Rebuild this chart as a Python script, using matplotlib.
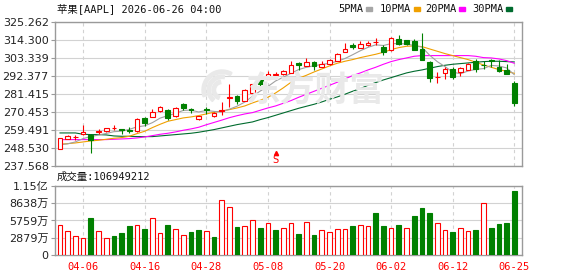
import matplotlib
matplotlib.use("Agg")
import matplotlib.pyplot as plt
from matplotlib.patches import Rectangle, Wedge
from matplotlib.transforms import IdentityTransform

plt.rcParams['font.family'] = ['DejaVu Sans', 'Noto Sans CJK SC']
MONO = ['DejaVu Sans Mono', 'Noto Sans CJK SC']

# ---- data ----
opens = [248.0, 254.2, 255.0, 256.8, 256.2, 258.4, 259.0, 260.5, 260.0, 259.4,
         258.6, 266.7, 267.5, 270.8, 271.4, 268.0, 275.0, 272.4, 265.9, 272.4,
         268.0, 271.0, 279.1, 279.9, 277.05, 281.9, 290.0, 290.6, 292.8, 293.2,
         294.25, 300.1, 298.3, 300.5, 297.7, 299.3, 301.3, 306.8, 310.8, 309.4,
         311.2, 312.66, 309.8, 307.8, 314.5, 313.9, 313.3, 308.8, 300.7, 291.4,
         294.05, 296.3, 294.65, 296.1, 301.1, 299.1, 301.7, 297.7, 295.7, 288.0]
highs = [254.8, 256.4, 256.4, 262.3, 257.2, 259.9, 260.8, 262.3, 260.1, 261.3,
         266.5, 267.3, 272.0, 274.0, 272.4, 273.4, 275.8, 273.0, 267.9, 273.4,
         270.4, 276.4, 287.6, 280.5, 284.5, 287.6, 292.0, 295.3, 294.65, 296.1,
         301.1, 300.7, 303.35, 301.3, 301.3, 302.75, 306.2, 312.25, 312.25, 313.5,
         313.5, 315.3, 311.2, 315.9, 317.3, 314.0, 314.9, 318.5, 301.3, 294.65,
         297.7, 297.7, 297.7, 300.3, 302.3, 301.1, 302.75, 301.7, 299.7, 289.0]
lows = [247.6, 253.8, 253.2, 256.6, 245.7, 256.8, 258.0, 259.3, 257.0, 257.8,
        258.2, 261.9, 267.1, 270.4, 265.7, 267.3, 271.4, 269.8, 265.7, 269.0,
        267.5, 268.8, 273.4, 275.0, 276.85, 281.5, 286.0, 290.4, 291.2, 292.8,
        294.0, 296.1, 298.1, 295.7, 297.5, 298.9, 301.1, 306.6, 308.4, 309.0,
        310.6, 311.2, 305.2, 307.6, 310.8, 310.8, 307.8, 301.7, 288.6, 288.2,
        290.6, 290.6, 292.2, 295.7, 294.65, 296.7, 297.7, 294.65, 293.2, 273.8]
closes = [254.3, 255.8, 255.4, 258.2, 253.6, 258.7, 260.7, 260.8, 259.7, 259.1,
          266.3, 263.9, 270.4, 273.4, 266.7, 273.0, 273.0, 271.4, 267.7, 271.4,
          270.0, 271.4, 279.7, 276.85, 283.9, 287.2, 287.6, 293.6, 293.6, 295.3,
          299.1, 298.9, 300.5, 298.3, 299.3, 302.1, 305.4, 308.8, 309.8, 311.4,
          312.45, 313.06, 306.8, 315.5, 311.4, 311.4, 308.2, 302.1, 291.0, 291.8,
          296.3, 291.6, 297.1, 299.3, 296.7, 298.7, 301.3, 295.3, 293.6, 276.0]

ma5 = [250.5, 251.0, 252.2, 254.2, 255.46, 256.34, 257.32, 258.4, 258.7, 259.8,
       261.32, 261.96, 263.88, 266.62, 268.14, 269.48, 271.3, 271.5, 270.36, 271.3,
       270.7, 270.38, 272.04, 273.87, 276.37, 279.81, 283.05, 285.83, 289.18, 291.46,
       293.84, 296.1, 297.48, 298.42, 299.22, 299.82, 301.12, 302.78, 305.08, 307.5,
       309.57, 311.1, 310.7, 311.84, 311.84, 311.63, 310.66, 309.72, 304.82, 300.9,
       297.88, 294.56, 293.56, 295.22, 296.2, 296.68, 298.62, 298.26, 297.12, 292.98]
ma10 = [250.75, 251.16, 251.56, 252.17, 252.78, 253.18, 253.79, 254.4, 254.8, 255.61,
        257.23, 258.65, 260.87, 262.89, 264.71, 265.72, 266.74, 267.34, 268.15, 269.16,
        270.17, 270.98, 271.79, 272.8, 274.02, 275.84, 277.46, 279.28, 281.91, 285.0,
        288.38, 290.81, 292.63, 294.65, 296.47, 298.29, 299.91, 301.13, 302.14, 303.35,
        304.36, 305.38, 306.59, 308.21, 309.42, 310.23, 310.43, 310.03, 308.61, 307.2,
        305.78, 304.57, 303.35, 302.14, 300.52, 298.9, 297.49, 296.07, 295.06, 293.8]
ma20 = [253.59, 253.59, 253.59, 253.59, 253.59, 253.59, 253.59, 253.79, 253.99, 254.19,
        254.6, 255.21, 256.01, 256.82, 257.43, 258.24, 259.25, 260.06, 261.07, 262.6,
        264.0, 265.4, 266.9, 268.1, 269.16, 269.97, 271.39, 272.8, 274.02, 275.64,
        277.26, 279.28, 281.1, 282.92, 284.74, 286.56, 288.38, 290.41, 292.43, 294.05,
        295.87, 297.49, 299.31, 300.93, 302.14, 303.15, 304.16, 304.57, 304.57, 304.57,
        304.57, 304.57, 304.57, 304.57, 304.16, 303.35, 303.15, 302.54, 301.53, 299.91]
ma30 = [257.63, 257.63, 257.63, 256.82, 256.62, 256.62, 256.42, 255.81, 255.61, 255.61,
        255.41, 255.41, 255.41, 255.81, 256.22, 256.62, 257.03, 257.43, 258.04, 258.85,
        259.66, 260.67, 261.68, 262.69, 263.5, 264.31, 265.72, 266.94, 268.35, 269.77,
        271.19, 272.6, 273.82, 275.03, 276.45, 278.06, 279.48, 281.1, 282.92, 284.54,
        286.56, 288.18, 289.8, 291.2, 292.63, 294.05, 295.06, 295.87, 296.88, 297.89,
        298.7, 299.31, 299.71, 300.12, 300.52, 300.93, 301.13, 301.13, 300.93, 300.72]

# volume in millions of shares
volumes = [50, 40, 31.7, 27.8, 61.7, 40, 27.8, 31.7, 37.3, 48.4,
           50, 43.4, 61.2, 36.2, 50, 42.8, 33.4, 38.4, 41.7, 40,
           30, 91.8, 79.5, 46.7, 48.4, 58.4, 45, 53.4, 41.7, 45,
           53.4, 35, 55, 33.4, 41.7, 38.4, 43.4, 43.4, 48.4, 50,
           48.4, 70, 48.4, 45, 50, 45, 65, 78.4, 70, 53.4,
           41.7, 38.4, 45, 40, 41.7, 86.7, 45, 51.7, 53.4, 106.949212]
vol_up = [1, 1, 1, 1, 0, 1, 1, 0, 0, 0,
          1, 0, 1, 1, 0, 1, 1, 0, 0, 1,
          0, 1, 1, 0, 1, 1, 0, 1, 0, 1,
          1, 0, 1, 0, 1, 1, 1, 1, 0, 1,
          1, 0, 0, 1, 0, 1, 0, 0, 0, 1,
          1, 0, 1, 1, 0, 1, 0, 0, 0, 0]
last_volume = 106949212

date_pos = [3, 11, 19, 27, 35, 43, 51, 59]
date_labels = ['04-06', '04-16', '04-28', '05-08', '05-20', '06-02', '06-12', '06-25']

price_ticks = ['237.568', '248.530', '259.491', '270.453', '281.415',
               '292.377', '303.339', '314.300', '325.262']
vol_ticks = [0, 28.79, 57.59, 86.38, 115.17]
vol_labels = ['0', '2879万', '5759万', '8638万', '1.15亿']
signal_day = 28

RED = '#ff0000'
GREEN = '#008000'
GRID = '#d2d2d2'
FRAME = '#9a9a9a'

W, H = 578, 276
fig = plt.figure(figsize=(W / 100, H / 100), dpi=100)
fig.patch.set_facecolor('white')


def box(x0, y0, x1, y1):
    return [x0 / W, 1 - y1 / H, (x1 - x0) / W, (y1 - y0) / H]


ax = fig.add_axes(box(55, 21.5, 522, 166))
axv = fig.add_axes(box(55, 186, 522, 255))

# watermark
fig.text(0.545, 1 - 90 / H, '东方财富', fontsize=25, color='#e9e9e9',
         fontweight='bold', style='italic', ha='center', va='center', zorder=0,
         family=['Noto Sans CJK SC'])
for r, t1, t2 in [(20, 60, 200), (15, 80, 230), (10, 100, 250)]:
    fig.patches.append(Wedge((222, H - 90), r, t1, t2, width=3.5,
                             transform=IdentityTransform(), color='#e9e9e9', zorder=0))

x = list(range(len(closes)))
bw = 0.6
for i in x:
    o, h, l, c = opens[i], highs[i], lows[i], closes[i]
    if c >= o:
        ax.vlines(i, l, o, color=RED, lw=0.8, zorder=4)
        ax.vlines(i, c, h, color=RED, lw=0.8, zorder=4)
        ax.add_patch(Rectangle((i - bw / 2, o), bw, max(c - o, 0.05), facecolor='white',
                               edgecolor=RED, lw=0.8, zorder=5))
    else:
        ax.vlines(i, l, h, color=GREEN, lw=0.8, zorder=4)
        ax.add_patch(Rectangle((i - bw / 2, c), bw, o - c, facecolor=GREEN,
                               edgecolor=GREEN, lw=0.8, zorder=5))

ax.plot(x, ma30, color='#006b2e', lw=0.8, zorder=3)
ax.plot(x, ma20, color='#ff00ff', lw=0.8, zorder=3)
ax.plot(x, ma10, color='#f0a000', lw=0.8, zorder=3)
ax.plot(x, ma5, color='#a0a0a0', lw=0.8, zorder=3)

# buy/sell signal marker
ax.plot(signal_day, 245.6, marker='^', color=RED, ms=3, zorder=6)
ax.text(signal_day, 241.4, 'S', color=RED, fontsize=7, ha='center', va='center', zorder=6)

ax.set_xlim(-0.65, 60.0)
ax.set_ylim(237.568, 325.262)
ax.set_yticks([float(t) for t in price_ticks])
ax.set_yticklabels(price_ticks)
ax.set_xticks(date_pos)
ax.tick_params(axis='x', length=0, labelbottom=False)

for i in x:
    if vol_up[i]:
        axv.add_patch(Rectangle((i - bw / 2, 0), bw, volumes[i], facecolor='white',
                                edgecolor=RED, lw=0.8, zorder=3))
    else:
        axv.add_patch(Rectangle((i - bw / 2, 0), bw, volumes[i], facecolor=GREEN,
                                edgecolor=GREEN, lw=0.8, zorder=3))
axv.set_xlim(-0.65, 60.0)
axv.set_ylim(0, 115.17)
axv.set_yticks(vol_ticks)
axv.set_yticklabels(vol_labels)
axv.set_xticks(date_pos)
axv.set_xticklabels(date_labels, color=RED, fontsize=7.5, family=MONO)
axv.tick_params(axis='x', length=0, pad=5)

for a in (ax, axv):
    a.set_facecolor('none')
    a.set_axisbelow(True)
    a.grid(axis='y', color=GRID, lw=0.8, ls='-')
    a.grid(axis='x', color=GRID, lw=0.8, ls=(0, (3, 3)))
    a.tick_params(axis='y', length=3, color=FRAME, labelsize=8, pad=1.5,
                  labelcolor='#222222')
    for s in a.spines.values():
        s.set_color(FRAME)
        s.set_linewidth(1.0)

# header texts
fig.text(57 / W, 1 - 9 / H, '苹果[AAPL] 2026-06-26 04:00', fontsize=7.5,
         family=MONO, va='center', ha='left', color='#111111')
fig.text(57 / W, 1 - 177 / H, f'成交量:{last_volume}', fontsize=7.5,
         family=MONO, va='center', ha='left', color='#111111')

legend = [('5PMA', '#a6a6a6', 338), ('10PMA', '#f0a000', 380),
          ('20PMA', '#ff00ff', 425), ('30PMA', '#006b2e', 472)]
for name, col, px in legend:
    t = fig.text(px / W, 1 - 9 / H, name, fontsize=7.5, family=MONO,
                 va='center', ha='left', color='#111111')
    sq = px + 6.0 * len(name) + 4
    fig.patches.append(Rectangle((sq, H - 11), 6, 4, transform=IdentityTransform(),
                                 color=col))

fig.savefig('out.png', dpi=100)
